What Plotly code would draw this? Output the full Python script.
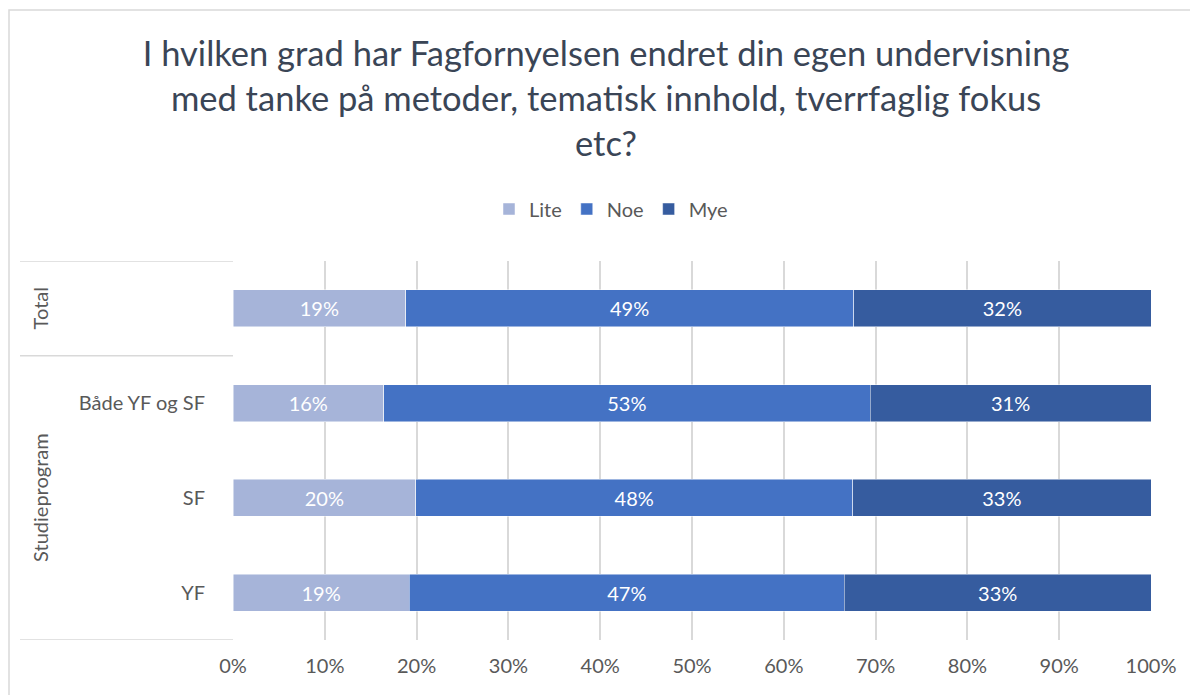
import plotly.graph_objects as go

categories = ["YF", "SF", "Både YF og SF", "Total"]
tick_labels = ["YF", "SF", "Både YF og SF", ""]
series_names = ["Lite", "Noe", "Mye"]
lite = [19.2, 19.9, 16.4, 18.8]
noe = [47.4, 47.6, 53.0, 48.8]
mye = [33.4, 32.5, 30.6, 32.4]
colors = ["#A6B4D9", "#4472C4", "#365C9F"]
x_ticks = [0, 10, 20, 30, 40, 50, 60, 70, 80, 90, 100]
x_tick_labels = [f"{v}%" for v in x_ticks]

FONT = "Lato"
GRAY = "#595959"

fig = go.Figure()
for name, vals, col in zip(series_names, [lite, noe, mye], colors):
    fig.add_trace(go.Bar(
        y=categories, x=vals, name=name, orientation="h",
        marker=dict(color=col, line=dict(color="rgba(255,255,255,0.6)", width=0.8)),
        texttemplate="%{x:.0f}%", textposition="inside", insidetextanchor="middle",
        textangle=0, textfont=dict(color="white", size=20, family=FONT),
        hoverinfo="x+name",
    ))

# page offset (browser body margin)
OFF = 8
W, H = 1198 - OFF, 695 - OFF
# target page-pixel edges of plot area
PL, PR, PT, PB = 233, 1151, 261, 640
L, R, T, B = PL - OFF, W - (PR - OFF), PT - OFF, H - (PB - OFF)
pw, ph = W - L - R, H - T - B

def px_x(p):
    return (p - OFF - L) / pw

def px_y(p):
    return (H - B - (p - OFF)) / ph

shapes = [
    dict(type="rect", xref="paper", yref="paper", x0=px_x(9), x1=px_x(1215), y0=px_y(710), y1=px_y(10),
         line=dict(color="#D9D9D9", width=1.5), fillcolor="rgba(0,0,0,0)", layer="below"),
]
for yv in [3.5, 2.5, -0.5]:
    shapes.append(dict(type="line", xref="paper", yref="y", x0=px_x(20), x1=0, y0=yv, y1=yv,
                       line=dict(color="#D9D9D9", width=1.5)))

annotations = [
    dict(text="Total", x=px_x(40), y=3, xref="paper", yref="y", textangle=-90, showarrow=False,
         font=dict(family=FONT, size=20, color=GRAY), xanchor="center", yanchor="middle"),
    dict(text="Studieprogram", x=px_x(40), y=1, xref="paper", yref="y", textangle=-90, showarrow=False,
         font=dict(family=FONT, size=20, color=GRAY), xanchor="center", yanchor="middle"),
]

fig.update_layout(
    width=W, height=H,
    margin=dict(l=L, r=R, t=T, b=B),
    paper_bgcolor="white", plot_bgcolor="white",
    barmode="stack", bargap=0.61,
    title=dict(
        text="I hvilken grad har Fagfornyelsen endret din egen undervisning<br>med tanke på metoder, tematisk innhold, tverrfaglig fokus<br>etc?",
        x=(606 - OFF) / W, xanchor="center", y=1 - (66 - OFF) / H, yanchor="middle",
        font=dict(family=FONT, size=34.5, color="#3A4556"),
    ),
    legend=dict(orientation="h", x=px_x(611), xanchor="center", y=px_y(209), yanchor="middle",
                font=dict(family=FONT, size=20, color=GRAY), traceorder="normal",
                itemwidth=30, bgcolor="rgba(0,0,0,0)"),
    xaxis=dict(range=[0, 100], tickvals=x_ticks, ticktext=x_tick_labels, showgrid=True,
               gridcolor="#D9D9D9", gridwidth=1.5, zeroline=False, showline=False,
               tickfont=dict(family=FONT, size=20, color=GRAY), ticks="", ticklabelstandoff=12,
               fixedrange=True),
    yaxis=dict(categoryorder="array", categoryarray=categories, tickvals=categories, ticktext=tick_labels,
               range=[-0.5, 3.5], showgrid=False, zeroline=False, showline=False, ticks="",
               tickfont=dict(family=FONT, size=20, color=GRAY), ticklabelstandoff=27,
               fixedrange=True),
    shapes=shapes, annotations=annotations,
    showlegend=True,
)

fig.write_html("out.html")
